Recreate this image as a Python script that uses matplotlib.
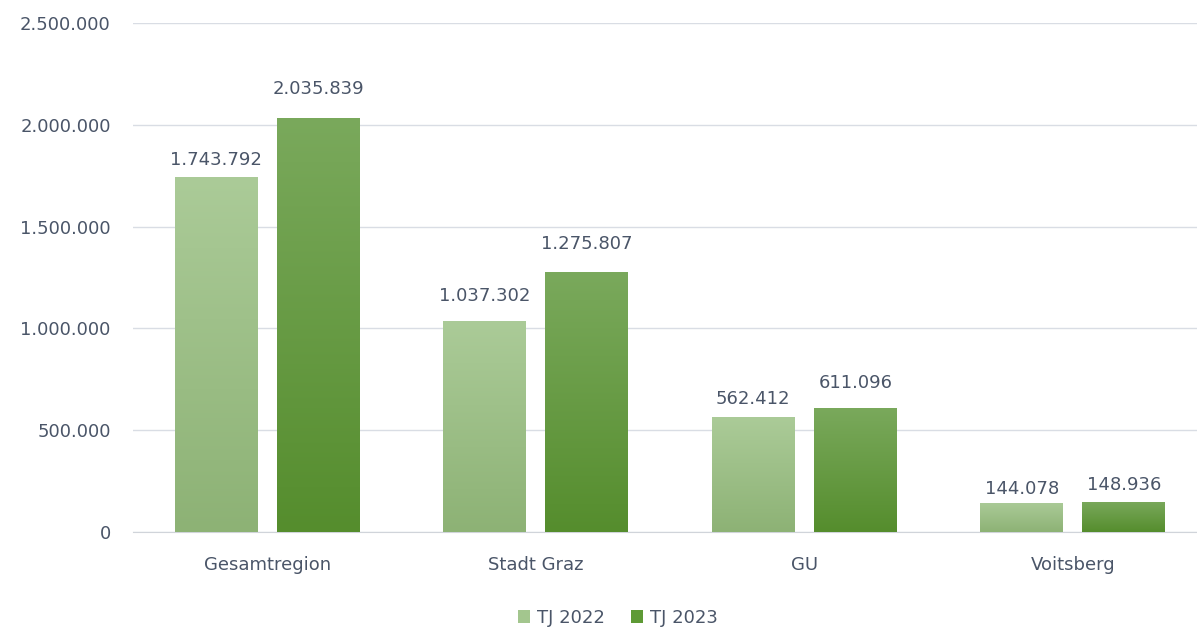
import matplotlib
matplotlib.use("Agg")
import matplotlib.pyplot as plt
import numpy as np
from matplotlib.colors import LinearSegmentedColormap
from matplotlib.patches import Patch
from matplotlib.ticker import FuncFormatter

categories = ["Gesamtregion", "Stadt Graz", "GU", "Voitsberg"]
series_names = ["TJ 2022", "TJ 2023"]
tj2022 = [1743792, 1037302, 562412, 144078]
tj2023 = [2035839, 1275807, 611096, 148936]

# label offsets above bar tops (points), as placed in the reference
label_pad_2022 = [5.8, 11.5, 6.5, 3.6]
label_pad_2023 = [13.7, 13.7, 11.5, 5.8]

plt.rcParams['font.family'] = ['DejaVu Sans']
text_col = "#4a5568"

def fmt(v):
    return f"{int(round(v)):,}".replace(",", ".")

fig = plt.figure(figsize=(11.97, 6.28), dpi=100)
ax = fig.add_axes([133/1197, (628-532)/628, (1207-133)/1197, (532-23)/628])

x = np.arange(len(categories))
w = 0.309
off = 0.19
grads = [("#abcb98", "#8db275"), ("#7aa95c", "#558d2d")]
legend_cols = ["#a3c68e", "#5e9a35"]

for vals, pads, sign, (ctop, cbot) in zip([tj2022, tj2023], [label_pad_2022, label_pad_2023],
                                          [-1, 1], grads):
    bars = ax.bar(x + sign * off, vals, width=w, color="none", edgecolor="none", zorder=3)
    cmap = LinearSegmentedColormap.from_list("g", [cbot, ctop])
    for b, v, p in zip(bars, vals, pads):
        x0 = b.get_x(); x1 = x0 + b.get_width()
        grad = np.linspace(0, 1, 256).reshape(-1, 1)
        im = ax.imshow(grad, extent=[x0, x1, 0, v], origin="lower", aspect="auto",
                       cmap=cmap, zorder=3)
        im.set_clip_path(b)
        ax.annotate(fmt(v), (b.get_x() + b.get_width() / 2, v), xytext=(0, p),
                    textcoords="offset points", ha="center", va="bottom",
                    fontsize=13, color=text_col, zorder=4)

ax.set_xlim(-0.5, 3.5)
ax.set_ylim(0, 2500000)
ax.set_yticks(np.arange(0, 2500001, 500000))
ax.yaxis.set_major_formatter(FuncFormatter(lambda v, p: fmt(v)))
ax.set_xticks(x)
ax.set_xticklabels(categories)
ax.grid(axis="y", color="#d9dde4", linewidth=1, zorder=0)
ax.set_axisbelow(True)
for s in ["top", "right", "left"]:
    ax.spines[s].set_visible(False)
ax.spines["bottom"].set_color("#d0d4da")
ax.tick_params(axis="both", length=0, labelsize=13, colors=text_col)
ax.tick_params(axis="x", pad=17)
ax.tick_params(axis="y", pad=16)

handles = [Patch(facecolor=c, edgecolor="none") for c in legend_cols]
fig.legend(handles, series_names, loc="center", bbox_to_anchor=(618/1197, 1 - 618/628),
           ncol=2, frameon=False, fontsize=13, labelcolor=text_col,
           handlelength=0.7, handleheight=0.7, handletextpad=0.4, columnspacing=1.4)

fig.savefig("out.png", dpi=100, facecolor="white")
